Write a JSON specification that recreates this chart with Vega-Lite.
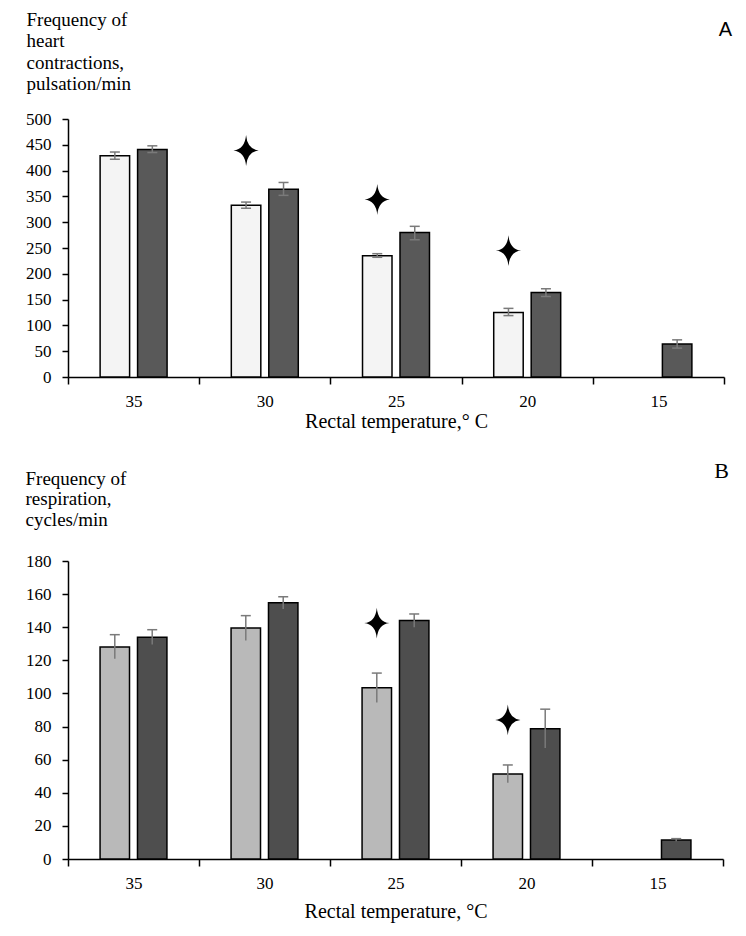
{
  "$schema": "https://vega.github.io/schema/vega-lite/v6.json",
  "padding": {"left": 25, "top": 10, "right": 5, "bottom": 5},
  "background": "white",
  "config": {
    "view": {"stroke": null},
    "font": "Liberation Serif",
    "axis": {
      "grid": false,
      "domainColor": "black",
      "domainWidth": 1.5,
      "tickColor": "black",
      "tickWidth": 1.5,
      "labelColor": "black",
      "titleColor": "black",
      "labelFont": "Liberation Serif",
      "labelFontSize": 17,
      "labelOverlap": false,
      "labelSeparation": 0,
      "titleFontWeight": "normal"
    }
  },
  "datasets": {
    "heart": [
      {"temp": "35", "group": "g1", "value": 429, "lo": 422, "hi": 436, "star": null},
      {"temp": "35", "group": "g2", "value": 441, "lo": 435, "hi": 448, "star": null},
      {"temp": "30", "group": "g1", "value": 333, "lo": 327, "hi": 339, "star": 439},
      {"temp": "30", "group": "g2", "value": 364, "lo": 352, "hi": 377, "star": null},
      {"temp": "25", "group": "g1", "value": 235, "lo": 232, "hi": 239, "star": 344},
      {"temp": "25", "group": "g2", "value": 280, "lo": 266, "hi": 292, "star": null},
      {"temp": "20", "group": "g1", "value": 125, "lo": 119, "hi": 133, "star": 245},
      {"temp": "20", "group": "g2", "value": 164, "lo": 156, "hi": 171, "star": null},
      {"temp": "15", "group": "g2", "value": 64, "lo": 56, "hi": 72, "star": null}
    ],
    "resp": [
      {"temp": "35", "group": "g1", "value": 128, "lo": 121, "hi": 135.5, "star": null},
      {"temp": "35", "group": "g2", "value": 134, "lo": 129.5, "hi": 138.5, "star": null},
      {"temp": "30", "group": "g1", "value": 139.5, "lo": 132, "hi": 147, "star": null},
      {"temp": "30", "group": "g2", "value": 154.8, "lo": 151, "hi": 158.4, "star": null},
      {"temp": "25", "group": "g1", "value": 103.4, "lo": 94.5, "hi": 112.3, "star": 142.5},
      {"temp": "25", "group": "g2", "value": 144, "lo": 140, "hi": 148, "star": null},
      {"temp": "20", "group": "g1", "value": 51.4, "lo": 46, "hi": 56.8, "star": 84},
      {"temp": "20", "group": "g2", "value": 78.6, "lo": 67, "hi": 90.5, "star": null},
      {"temp": "15", "group": "g2", "value": 11.5, "lo": 10.7, "hi": 12.3, "star": null}
    ]
  },
  "spacing": 29,
  "resolve": {"scale": {"x": "independent", "y": "independent", "xOffset": "independent", "color": "independent"}},
  "vconcat": [
    {
      "width": 656,
      "height": 258,
      "data": {"name": "heart"},
      "title": {"text": "A", "anchor": "end", "frame": "group", "font": "Liberation Sans", "fontSize": 20, "fontWeight": "normal", "baseline": "alphabetic", "dx": 8, "dy": 50},
      "encoding": {
        "x": {
          "field": "temp", "type": "nominal", "sort": ["35", "30", "25", "20", "15"],
          "scale": {"paddingInner": 0, "paddingOuter": 0},
          "axis": {"labelAngle": 0, "tickBand": "extent", "tickSize": 7, "labelPadding": 9, "title": "Rectal temperature,° C", "titleFont": "Liberation Serif", "titleFontSize": 20, "titlePadding": 2}
        },
        "xOffset": {"field": "group", "type": "nominal", "scale": {"domain": ["g1", "g2"], "paddingInner": 0.213, "paddingOuter": 0.857}}
      },
      "layer": [
        {
          "mark": {"type": "bar", "stroke": "black", "strokeWidth": 1.5},
          "encoding": {
            "y": {
              "field": "value", "type": "quantitative",
              "scale": {"domain": [0, 500], "nice": false},
              "axis": {
                "tickCount": 10, "labelOverlap": false,
                "tickSize": 6, "labelPadding": 11,
                "title": ["Frequency of", "heart", "contractions,", "pulsation/min"],
                "titleFont": "Liberation Serif", "titleFontSize": 19, "titleLineHeight": 21.5, "titleAngle": 0, "titleAlign": "left", "titleBaseline": "alphabetic",
                "titleX": -42, "titleY": -94
              }
            },
            "color": {"field": "group", "type": "nominal", "scale": {"domain": ["g1", "g2"], "range": ["#f4f4f4", "#595959"]}, "legend": null}
          }
        },
        {
          "mark": {"type": "rule", "color": "#7a7a7a", "strokeWidth": 1.5},
          "encoding": {"y": {"field": "lo", "type": "quantitative"}, "y2": {"field": "hi"}}
        },
        {
          "mark": {"type": "point", "shape": "M-1,0H1", "size": 100, "filled": false, "color": "#7a7a7a", "strokeWidth": 1.5, "opacity": 1},
          "encoding": {"y": {"field": "hi", "type": "quantitative"}}
        },
        {
          "mark": {"type": "point", "shape": "M-1,0H1", "size": 100, "filled": false, "color": "#7a7a7a", "strokeWidth": 1.5, "opacity": 1},
          "encoding": {"y": {"field": "lo", "type": "quantitative"}}
        },
        {
          "transform": [{"filter": "datum.star != null"}],
          "mark": {"type": "point", "shape": "M0,-1Q0.08,-0.08,0.82,0Q0.08,0.08,0,1Q-0.08,0.08,-0.82,0Q-0.08,-0.08,0,-1Z", "size": 950, "filled": true, "color": "black", "opacity": 1},
          "encoding": {"y": {"field": "star", "type": "quantitative"}}
        }
      ]
    },
    {
      "width": 655,
      "height": 298,
      "data": {"name": "resp"},
      "title": {"text": "B", "anchor": "end", "frame": "group", "font": "Liberation Serif", "fontSize": 22, "fontWeight": "normal", "baseline": "alphabetic", "dx": 6, "dy": 35},
      "encoding": {
        "x": {
          "field": "temp", "type": "nominal", "sort": ["35", "30", "25", "20", "15"],
          "scale": {"paddingInner": 0, "paddingOuter": 0},
          "axis": {"labelAngle": 0, "tickBand": "extent", "tickSize": 7, "labelPadding": 9, "title": "Rectal temperature, °C", "titleFont": "Liberation Serif", "titleFontSize": 20, "titlePadding": 10}
        },
        "xOffset": {"field": "group", "type": "nominal", "scale": {"domain": ["g1", "g2"], "paddingInner": 0.213, "paddingOuter": 0.857}}
      },
      "layer": [
        {
          "mark": {"type": "bar", "stroke": "black", "strokeWidth": 1.5},
          "encoding": {
            "y": {
              "field": "value", "type": "quantitative",
              "scale": {"domain": [0, 180], "nice": false},
              "axis": {
                "tickCount": 9, "labelOverlap": false,
                "tickSize": 6, "labelPadding": 11,
                "title": ["Frequency of", "respiration,", "cycles/min"],
                "titleFont": "Liberation Serif", "titleFontSize": 19, "titleLineHeight": 20.5, "titleAngle": 0, "titleAlign": "left", "titleBaseline": "alphabetic",
                "titleX": -43, "titleY": -77
              }
            },
            "color": {"field": "group", "type": "nominal", "scale": {"domain": ["g1", "g2"], "range": ["#b9b9b9", "#4e4e4e"]}, "legend": null}
          }
        },
        {
          "mark": {"type": "rule", "color": "#7a7a7a", "strokeWidth": 1.5},
          "encoding": {"y": {"field": "lo", "type": "quantitative"}, "y2": {"field": "hi"}}
        },
        {
          "mark": {"type": "point", "shape": "M-1,0H1", "size": 100, "filled": false, "color": "#7a7a7a", "strokeWidth": 1.5, "opacity": 1},
          "encoding": {"y": {"field": "hi", "type": "quantitative"}}
        },
        {
          "transform": [{"filter": "datum.star != null"}],
          "mark": {"type": "point", "shape": "M0,-1Q0.08,-0.08,0.82,0Q0.08,0.08,0,1Q-0.08,0.08,-0.82,0Q-0.08,-0.08,0,-1Z", "size": 950, "filled": true, "color": "black", "opacity": 1},
          "encoding": {"y": {"field": "star", "type": "quantitative"}}
        }
      ]
    }
  ]
}
